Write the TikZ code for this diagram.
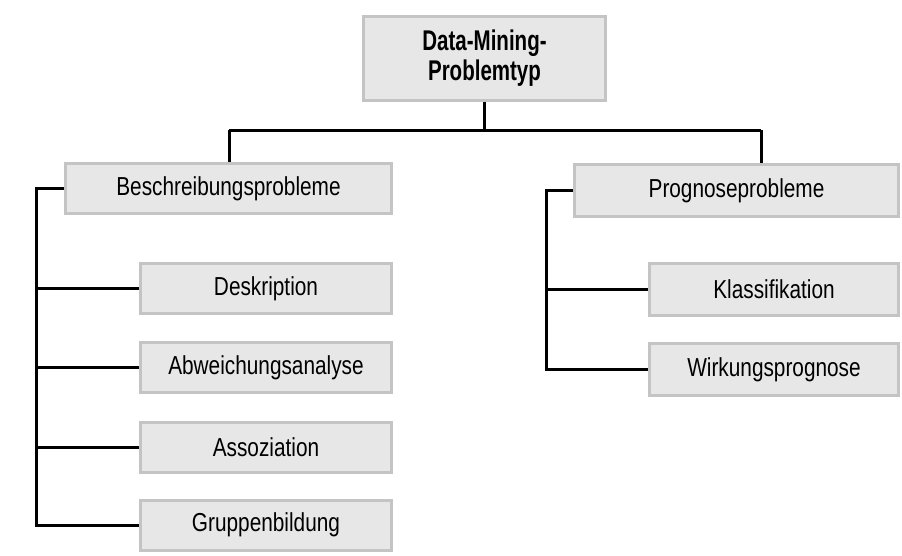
\documentclass[tikz,border=0pt]{standalone}
\usepackage{fontspec}
\setmainfont{Liberation Sans}
\newfontfamily\boxfont[FakeStretch=0.8]{Liberation Sans}
\newfontfamily\rootfont[FakeStretch=0.72]{Liberation Sans Bold}
\begin{document}
\begin{tikzpicture}[x=1pt,y=-1pt,
  box/.style={draw=boxline, fill=boxfill, line width=3pt, inner sep=0pt,
    align=center, font=\boxfont\fontsize{26}{30}\selectfont},
  leftbox/.style={box, minimum width=251pt, minimum height=50pt},
  rightbox/.style={box, minimum width=249pt, minimum height=52pt},
  link/.style={draw=black, line width=3pt, line join=miter}]
\definecolor{boxfill}{HTML}{E7E7E7}
\definecolor{boxline}{HTML}{C4C4C4}
\useasboundingbox (0,0) rectangle (902,555);

% root
\node[box, minimum width=242pt, minimum height=84pt, font=\rootfont\fontsize{28.5}{30}\selectfont]
  (root) at (484.5,58.5) {Data-Mining-\\Problemtyp};

% second level
\node[box, minimum width=326pt, minimum height=50pt] (besch) at (228.5,188.5) {Beschreibungsprobleme};
\node[box, minimum width=324pt, minimum height=52pt] (prog) at (736.5,190.5) {Prognoseprobleme};

% descriptive problems
\node[leftbox] (desk) at (266,288.5) {Deskription};
\node[leftbox] (abw)  at (266,367.5) {Abweichungsanalyse};
\node[leftbox] (asso) at (266,447)   {Assoziation};
\node[leftbox] (grup) at (266,525)   {Gruppenbildung};

% prognostic problems
\node[rightbox] (klass) at (774,289.5) {Klassifikation};
\node[rightbox] (wirk)  at (774,369.5) {Wirkungsprognose};

% junctions and spines
\coordinate (jl) at (229,130);
\coordinate (jr) at (761,130);
\coordinate (sl) at (36,0);
\coordinate (sr) at (546,0);

% trunk
\draw[link] (root.south) -- (root.south |- jl);
\draw[link] (jl) -- (jr);
\draw[link] (jl) -- (jl |- besch.north);
\draw[link] (jr) -- (jr |- prog.north);

% left spine
\draw[link] (besch.west) -- (besch.west -| sl) -- (grup.west -| sl) -- (grup.west);
\draw[link] (desk.west) -- (desk.west -| sl);
\draw[link] (abw.west) -- (abw.west -| sl);
\draw[link] (asso.west) -- (asso.west -| sl);

% right spine
\draw[link] (prog.west) -- (prog.west -| sr) -- (wirk.west -| sr) -- (wirk.west);
\draw[link] (klass.west) -- (klass.west -| sr);
\end{tikzpicture}
\end{document}
